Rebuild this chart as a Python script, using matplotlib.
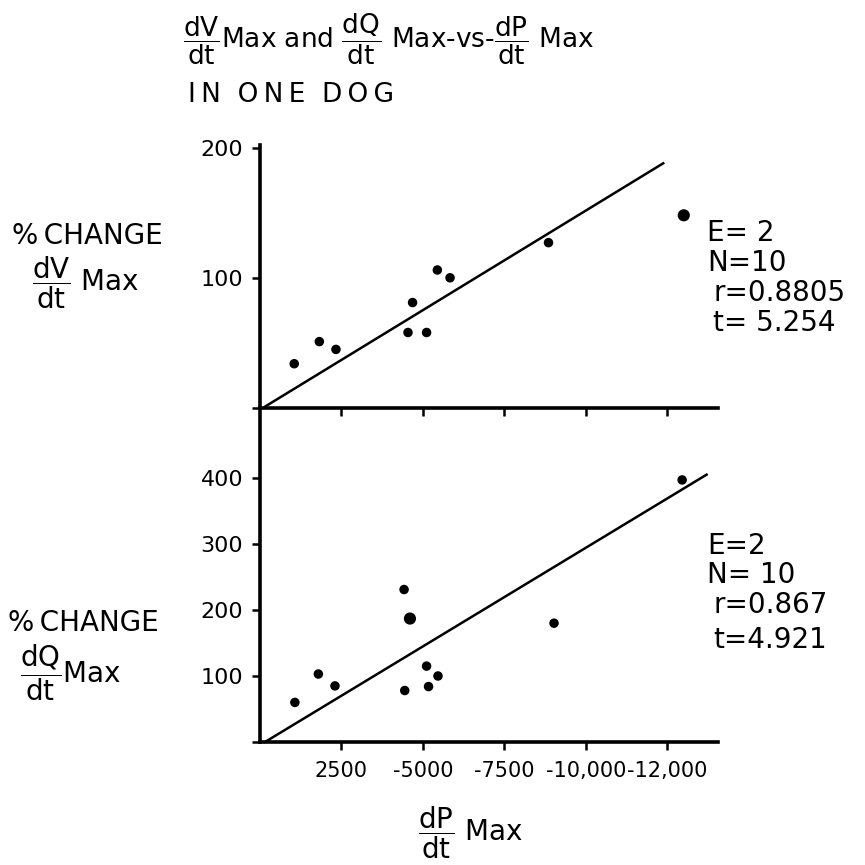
import numpy as np
import matplotlib
matplotlib.use("Agg")
import matplotlib.pyplot as plt

plt.rcParams['font.family'] = ['DejaVu Sans']
plt.rcParams['mathtext.fontset'] = 'custom'
plt.rcParams['mathtext.rm'] = 'DejaVu Sans'

# dP/dt Max vs % change dV/dt Max (top) and % change dQ/dt Max (bottom)
dv_x = [1050, 1820, 2330, 4540, 4680, 5110, 5440, 5830, 8850, 13000]
dv_y = [34, 51, 45, 58, 81, 58, 106, 100, 127, 148]
dv_fit = (0.0153, -1.3)   # slope, intercept
dv_fit_range = [150, 12370]
dv_stats = ["E= 2", "N=10", "r=0.8805", "t= 5.254"]

dq_x = [1070, 1790, 2300, 4420, 4600, 4440, 5110, 5170, 5460, 9020, 12950]
dq_y = [60, 103, 85, 231, 187, 78, 115, 84, 100, 180, 397]
dq_fit = (0.0299, -4.6)
dq_fit_range = [150, 13700]
dq_stats = ["E=2", "N= 10", "r=0.867", "t=4.921"]

x_ticks = [2500, 5000, 7500, 10000, 12500]
x_ticklabels = ["2500", "-5000", "-7500", "-10,000", "-12,000"]
dv_ticks = [0, 100, 200]
dq_ticks = [0, 100, 200, 300, 400]

W = 865.0
def px(x, y):
    return x / W, 1 - y / W

fig = plt.figure(figsize=(8.65, 8.65), dpi=100)
ax1 = fig.add_axes([260 / W, (W - 408) / W, 458 / W, 263 / W])
ax2 = fig.add_axes([260 / W, (W - 742) / W, 458 / W, 334 / W])

def style(ax):
    for s in ['top', 'right']:
        ax.spines[s].set_visible(False)
    for s in ['left', 'bottom']:
        ax.spines[s].set_linewidth(2.6)
    ax.tick_params(direction='out', length=6, width=1.8, labelsize=16, pad=6)
    ax.set_xlim(0, 14050)
    ax.set_xticks(x_ticks)
    ax.set_facecolor('none')

style(ax1)
ax1.set_ylim(0, 202)
ax1.set_yticks(dv_ticks)
ax1.set_yticklabels([''] + [str(t) for t in dv_ticks[1:]])
ax1.set_xticklabels([])
sizes = np.full(len(dv_x), 34.0)
sizes[-1] = 60
ax1.scatter(dv_x, dv_y, s=sizes, color='black', zorder=3, clip_on=False)
xs = np.array(dv_fit_range)
ax1.plot(xs, dv_fit[0] * xs + dv_fit[1], color='black', lw=1.8, clip_on=False)

style(ax2)
ax2.set_ylim(0, 506)
ax2.set_yticks(dq_ticks)
ax2.set_yticklabels([''] + [str(t) for t in dq_ticks[1:]])
ax2.set_xticklabels(x_ticklabels)
ax2.tick_params(axis='x', pad=8, labelsize=15)
sizes = np.full(len(dq_x), 34.0)
sizes[4] = 60
ax2.scatter(dq_x, dq_y, s=sizes, color='black', zorder=3, clip_on=False)
xs = np.array(dq_fit_range)
ax2.plot(xs, dq_fit[0] * xs + dq_fit[1], color='black', lw=1.8, clip_on=False)

def frac(num):
    return r"$\dfrac{\mathrm{%s}}{\mathrm{dt}}$" % num

# title
fig.text(*px(183, 39), frac("dV") + "Max and " + frac("dQ") + " Max-vs-" + frac("dP") + " Max",
         fontsize=19, ha='left', va='center')
fig.text(*px(188, 95), "I\u2009N  O\u2009N\u2009E  D\u2009O\u2009G", fontsize=19, ha='left', va='center')

# y labels
fig.text(*px(12, 236), "%\u2009CHANGE", fontsize=20, ha='left', va='center')
fig.text(*px(32, 283), frac("dV") + " Max", fontsize=20, ha='left', va='center')
fig.text(*px(8, 623), "%\u2009CHANGE", fontsize=20, ha='left', va='center')
fig.text(*px(20, 673), frac("dQ") + "Max", fontsize=20, ha='left', va='center')

# x label
fig.text(*px(418, 833), frac("dP") + " Max", fontsize=20, ha='left', va='center')

# stats
offs = [0, 0, 6, 6]
for i, (txt, y) in enumerate(zip(dv_stats, [233, 263, 293, 323])):
    fig.text(*px(707 + offs[i], y), txt, fontsize=20, ha='left', va='center')
for i, (txt, y) in enumerate(zip(dq_stats, [546, 575, 605, 640])):
    fig.text(*px(707 + offs[i], y), txt, fontsize=20, ha='left', va='center')

fig.savefig("out.png", dpi=100)
